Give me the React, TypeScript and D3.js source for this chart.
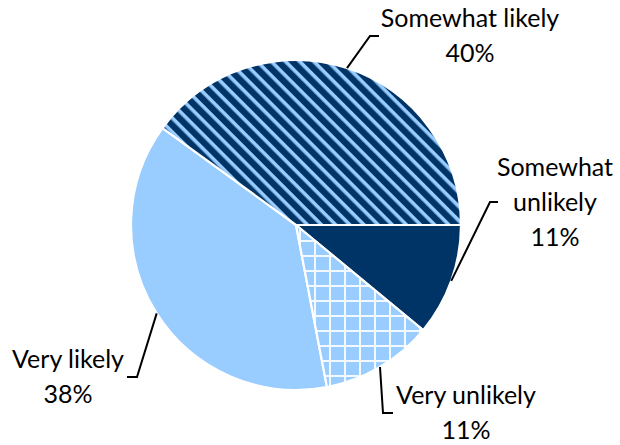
import React from "react";
import * as d3 from "d3";

const categories = ["Very likely", "Somewhat likely", "Somewhat unlikely", "Very unlikely"];
const values = [38, 40, 11, 11];
const percentLabels = ["38%", "40%", "11%", "11%"];
const labelLines = [["Very likely"], ["Somewhat likely"], ["Somewhat", "unlikely"], ["Very unlikely"]];

const W = 620;
const H = 445;
const CX = 296;
const CY = 225;
const R = 165;
const NAVY = "#003366";
const LIGHT = "#99CCFF";
const FONT = "Lato, 'Open Sans', sans-serif";
const FS = 25;
const LH = 35;

// label block layout: text center x, block middle y, elbow point, end x of horizontal tick
const labelLayout = [
  { tx: 68, my: 377, ex: 137, hx: 127 },
  { tx: 470, my: 36, ex: 370, hx: 379 },
  { tx: 555, my: 202, ex: 490, hx: 498 },
  { tx: 466, my: 413, ex: 383, hx: 393 },
];

const fills = ["url(#solidLight)", "url(#stripes)", "url(#solidNavy)", "url(#grid)"];

export default function App() {
  const startDeg = 169.2;
  const pie = d3
    .pie<number>()
    .sort(null)
    .value((d) => d)
    .startAngle((startDeg * Math.PI) / 180)
    .endAngle((startDeg * Math.PI) / 180 + 2 * Math.PI);
  const arcs = pie(values);
  const arc = d3.arc<d3.PieArcDatum<number>>().innerRadius(0).outerRadius(R);

  return (
    <svg
      width={W}
      height={H}
      style={{ position: "absolute", left: 0, top: 0, background: "#fff" }}
    >
      <defs>
        <pattern id="solidLight" patternUnits="userSpaceOnUse" width={10} height={10}>
          <rect width={10} height={10} fill={LIGHT} />
        </pattern>
        <pattern id="solidNavy" patternUnits="userSpaceOnUse" width={10} height={10}>
          <rect width={10} height={10} fill={NAVY} />
        </pattern>
        <pattern
          id="stripes"
          patternUnits="userSpaceOnUse"
          width={10}
          height={10}
          patternTransform="rotate(45)"
        >
          <rect width={10} height={10} fill={NAVY} />
          <rect x={0} y={0} width={10} height={3.6} fill={LIGHT} />
        </pattern>
        <pattern id="grid" patternUnits="userSpaceOnUse" width={15} height={15} x={3} y={0}>
          <rect width={15} height={15} fill={LIGHT} />
          <rect x={0} y={0} width={2} height={15} fill="#f4f9ff" />
          <rect x={0} y={0} width={15} height={2} fill="#f4f9ff" />
        </pattern>
      </defs>
      <g transform={`translate(${CX},${CY})`}>
        {arcs.map((a, i) => (
          <path
            key={categories[i]}
            d={arc(a) || ""}
            fill={fills[i]}
            stroke="#fff"
            strokeWidth={2.2}
            strokeLinejoin="round"
          />
        ))}
      </g>
      {arcs.map((a, i) => {
        const mid = (a.startAngle + a.endAngle) / 2;
        const sx = CX + R * Math.sin(mid);
        const sy = CY - R * Math.cos(mid);
        const L = labelLayout[i];
        const lines = [...labelLines[i], percentLabels[i]];
        const firstBase = L.my - (lines.length * LH) / 2 + 26;
        return (
          <g key={"lab" + i}>
            <polyline
              points={`${sx},${sy} ${L.ex},${L.my} ${L.hx},${L.my}`}
              fill="none"
              stroke="#000"
              strokeWidth={2}
            />
            <text
              textAnchor="middle"
              fontFamily={FONT}
              fontSize={FS}
              fill="#000"
            >
              {lines.map((t, j) => (
                <tspan key={j} x={L.tx} y={firstBase + j * LH}>
                  {t}
                </tspan>
              ))}
            </text>
          </g>
        );
      })}
    </svg>
  );
}
